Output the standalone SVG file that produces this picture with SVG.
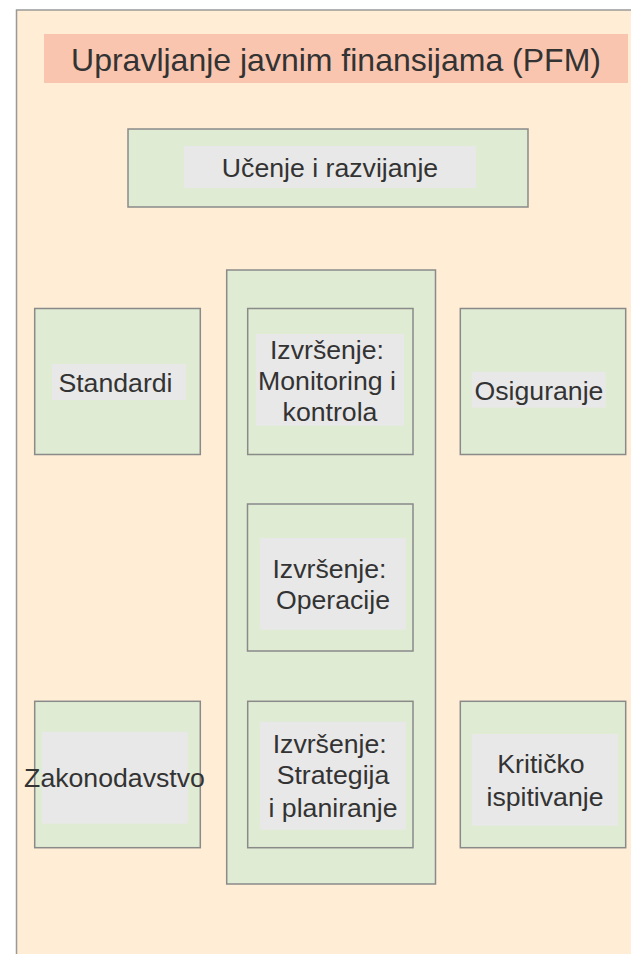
<svg xmlns="http://www.w3.org/2000/svg" width="631" height="954" viewBox="0 0 631 954">
<style>
.panel{fill:#FFEDD5;stroke:#999;stroke-width:1.5}
.box{fill:#DFEBD2;stroke:#8a8a8a;stroke-width:1.5}
.lbl{fill:#E8E8E8}
.t{font-family:"Liberation Sans",Arial,sans-serif;font-size:26.67px;fill:#333;text-anchor:middle}
.title{font-family:"Liberation Sans",Arial,sans-serif;font-size:32px;fill:#333;text-anchor:middle}
</style>
<rect width="631" height="954" fill="#ffffff"/>
<g id="panel">
<rect class="panel" x="16.5" y="10" width="630" height="960"/>
</g>
<g id="title">
<rect x="44" y="34" width="584" height="49" fill="#F9C5AE"/>
<text class="title" x="336" y="71">Upravljanje javnim finansijama (PFM)</text>
</g>
<g id="ucenje">
<rect class="box" x="128" y="129" width="400" height="78"/>
<rect class="lbl" x="184" y="146" width="292" height="42"/>
<text class="t" x="330" y="177">Učenje i razvijanje</text>
</g>
<g id="izvrsenje">
<rect class="box" x="226.7" y="270" width="208.8" height="614"/>
</g>
<g id="standardi">
<rect class="box" x="34.7" y="308.5" width="165.6" height="146"/>
<rect class="lbl" x="52" y="364" width="134" height="36"/>
<text class="t" x="115.5" y="392">Standardi</text>
</g>
<g id="monitoring">
<rect class="box" x="247.7" y="308.5" width="165.3" height="146"/>
<rect class="lbl" x="256" y="334" width="148" height="91.7"/>
<text class="t" x="327" y="359">Izvršenje:</text>
<text class="t" x="327" y="390">Monitoring i</text>
<text class="t" x="330" y="421">kontrola</text>
</g>
<g id="osiguranje">
<rect class="box" x="460.3" y="308.5" width="165.4" height="146"/>
<rect class="lbl" x="471.7" y="371.7" width="134" height="36"/>
<text class="t" x="539" y="400">Osiguranje</text>
</g>
<g id="operacije">
<rect class="box" x="247.5" y="504" width="165.5" height="147"/>
<rect class="lbl" x="260" y="538" width="146" height="91.7"/>
<text class="t" x="329.5" y="578">Izvršenje:</text>
<text class="t" x="333" y="609">Operacije</text>
</g>
<g id="zakonodavstvo">
<rect class="box" x="34.7" y="701.3" width="165.6" height="146.4"/>
<rect class="lbl" x="42" y="731.7" width="145.7" height="92"/>
<text class="t" x="114.5" y="787">Zakonodavstvo</text>
</g>
<g id="strategija">
<rect class="box" x="247.7" y="701.3" width="165.3" height="146.4"/>
<rect class="lbl" x="260" y="721.7" width="146" height="108"/>
<text class="t" x="329.7" y="753">Izvršenje:</text>
<text class="t" x="333" y="784">Strategija</text>
<text class="t" x="333" y="816.5">i planiranje</text>
</g>
<g id="kriticko">
<rect class="box" x="460.3" y="701.3" width="165.4" height="146.4"/>
<rect class="lbl" x="471.7" y="734" width="146.3" height="91.7"/>
<text class="t" x="541" y="773">Kritičko</text>
<text class="t" x="545" y="805.5">ispitivanje</text>
</g>
<g id="connectors"></g>
</svg>
